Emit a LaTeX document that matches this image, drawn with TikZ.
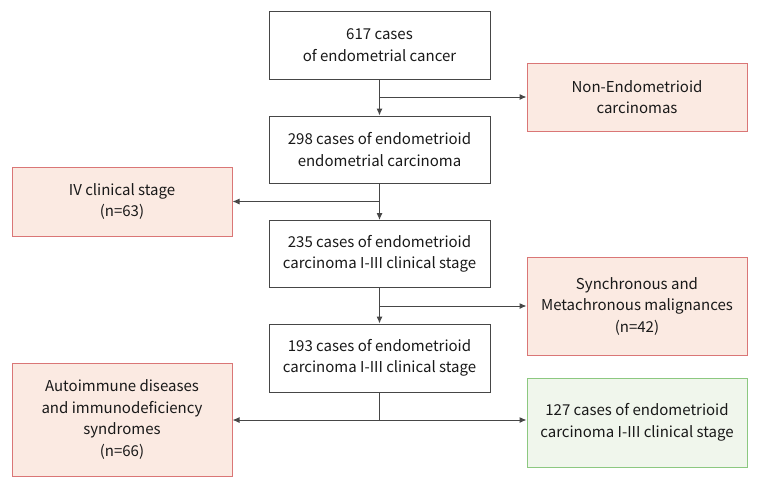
\documentclass[tikz,border=0pt]{standalone}
\usepackage{fontspec}
\setmainfont{Noto Sans CJK KR}
\usetikzlibrary{arrows.meta}
\definecolor{linegray}{RGB}{70,70,70}
\definecolor{exclfill}{RGB}{251,234,226}
\definecolor{excldraw}{RGB}{218,118,118}
\definecolor{keepfill}{RGB}{240,246,236}
\definecolor{keepdraw}{RGB}{140,200,128}
\tikzset{
	casebox/.style={draw=linegray, line width=1pt, fill=white, minimum width=221pt, minimum height=68pt, inner sep=0pt, align=center, text=black!90, font=\fontsize{15}{21.5}\selectfont},
	exclbox/.style={casebox, draw=excldraw, fill=exclfill, minimum width=220pt},
	keepbox/.style={casebox, draw=keepdraw, fill=keepfill, minimum width=220pt},
	flow/.style={draw=linegray, line width=1pt, -{Latex[length=7pt,width=6pt]}},
	link/.style={draw=linegray, line width=1pt}
}
\begin{document}
\begin{tikzpicture}[x=1pt,y=-1pt]
\useasboundingbox (0,0) rectangle (757,485);

% main column
\node[casebox] (c617) at (379.5,45) {617 cases\\of endometrial cancer};
\node[casebox, minimum height=67pt] (c298) at (379.5,149.5) {298 cases of endometrioid\\endometrial carcinoma};
\node[casebox, minimum height=67pt] (c235) at (379.5,254) {235 cases of endometrioid\\carcinoma I-III clinical stage};
\node[casebox] (c193) at (379.5,358) {193 cases of endometrioid\\carcinoma I-III clinical stage};

% side boxes
\node[exclbox] (nonendo) at (637,97) {Non-Endometrioid\\carcinomas};
\node[exclbox, minimum height=69pt] (stage4) at (122,201.5) {IV clinical stage\\(n=63)};
\node[exclbox, minimum height=98pt] (synchr) at (637,306) {Synchronous and\\Metachronous malignances\\(n=42)};
\node[exclbox, minimum height=113pt] (autoimm) at (122,419.5) {Autoimmune diseases\\and immunodeficiency\\syndromes\\(n=66)};
\node[keepbox, minimum height=89pt] (c127) at (637,422.5) {127 cases of endometrioid\\carcinoma I-III clinical stage};

% branch points
\coordinate (b1) at (c617 |- nonendo);
\coordinate (b2) at (c298 |- stage4);
\coordinate (b3) at (c235 |- synchr);
\coordinate (b4) at (379.5,420);

\draw[flow] (c617) -- (c298);
\draw[flow] (c298) -- (c235);
\draw[flow] (c235) -- (c193);
\draw[flow] (b1) -- (nonendo);
\draw[flow] (b2) -- (stage4);
\draw[flow] (b3) -- (synchr);
\draw[link] (c193.south) -- (b4);
\draw[flow] (b4) -- (autoimm.east |- b4);
\draw[flow] (b4) -- (c127.west |- b4);
\end{tikzpicture}
\end{document}
